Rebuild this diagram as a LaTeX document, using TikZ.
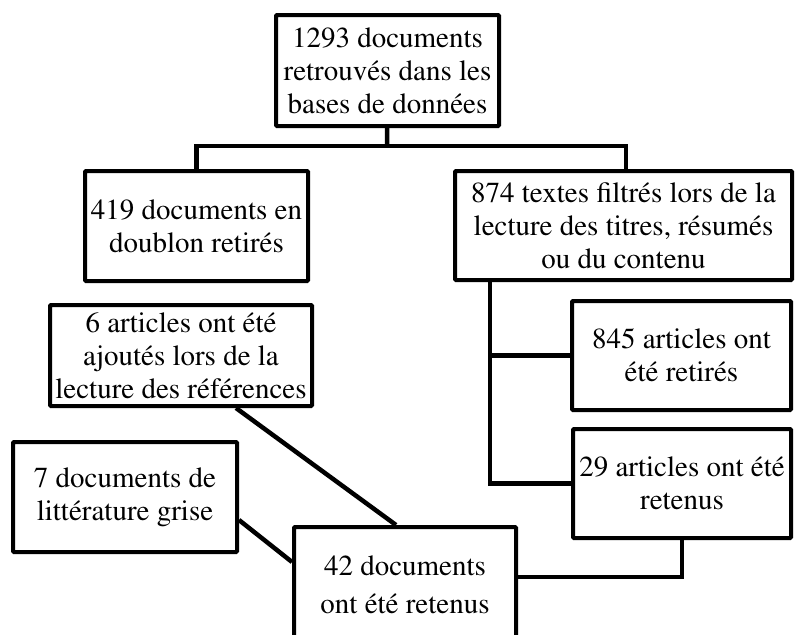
\documentclass[tikz,border=0pt]{standalone}
\usepackage[T1]{fontenc}
\usepackage{mathptmx}
\usepackage{tikz}
\usetikzlibrary{positioning}
\tikzset{
    x=1pt, y=-1pt,
    box/.style={draw, line width=4pt, rounded corners=1pt, align=center,
        inner sep=0pt, font=\fontsize{29}{33}\selectfont},
    link/.style={line width=4.5pt}
}

\begin{document}
\begin{tikzpicture}
        \useasboundingbox (0,0) rectangle (796,635);
        \clip (0,0) rectangle (796,635);
        \node[box, minimum width=223pt, minimum height=111pt] (top) at (387.5,70.5) {1293 documents\\retrouvés dans les\\bases de données};
        \node[box, minimum width=223pt, minimum height=110pt] (doublon) at (196.5,226) {419 documents en\\doublon retirés};
        \node[box, minimum width=337pt, minimum height=109pt] (filtres) at (623.5,225.5) {874 textes filtrés lors de la\\lecture des titres, résumés\\ou du contenu};
        \node[box, minimum width=262pt, minimum height=101pt] (ajoutes) at (181,355.5) {6 articles ont été\\ajoutés lors de la\\lecture des références};
        \node[box, minimum width=219pt, minimum height=109pt] (retires) at (681.5,355.5) {845 articles ont\\été retirés};
        \node[box, minimum width=218pt, minimum height=109pt] (retenus) at (682,483.5) {29 articles ont été\\retenus};
        \node[box, minimum width=224pt, minimum height=110pt] (grise) at (125,497) {7 documents de\\littérature grise};
        \node[box, minimum width=222pt, minimum height=116pt, font=\fontsize{29}{38}\selectfont] (final) at (405,585) {42 documents\\ont été retenus};
        \coordinate (split) at (387,146);
        \coordinate (trunk) at (490,282);
        \draw[link] (top) -- (split);
        \draw[link] (doublon.north) |- (split) -| ([xshift=2.5pt]filtres.north);
        \draw[link] (trunk) |- (retenus.west);
        \draw[link] (retires.west) -| (trunk);
        \draw[link] (retenus.south) |- ([yshift=8pt]final.east);
        \draw[link] ([xshift=55pt]ajoutes.south) -- ([xshift=-9pt]final.north);
        \draw[link] ([yshift=-23pt]grise.east) -- ([yshift=23pt]final.west);
    \end{tikzpicture}
\end{document}
